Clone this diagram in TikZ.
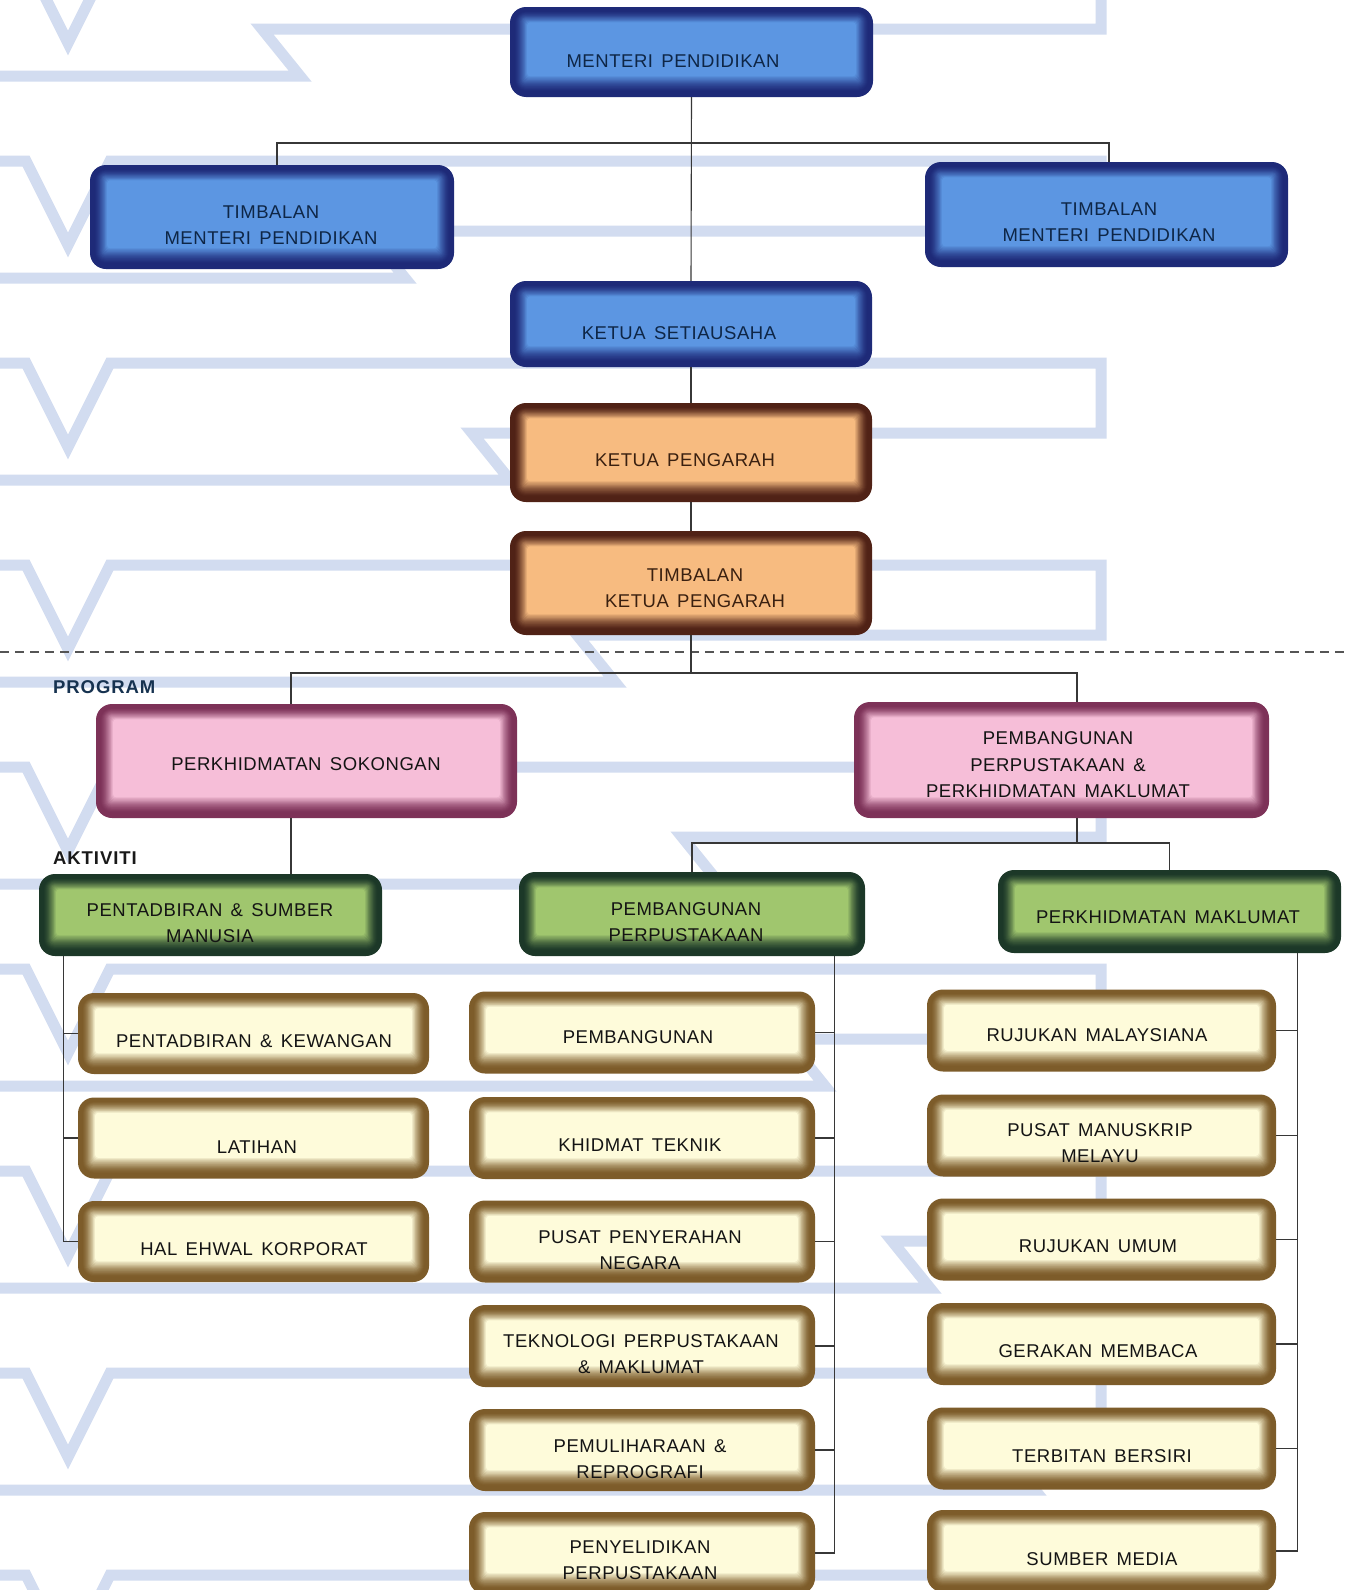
\documentclass[tikz,border=0pt]{standalone}
\usepackage{fontspec}
\setmainfont{Liberation Sans}
\newfontfamily\boxfont[LetterSpace=3]{Liberation Sans}
\newfontfamily\labfont[LetterSpace=5]{Liberation Sans}
\usetikzlibrary{calc}
\definecolor{bgrib}{RGB}{210,220,240}
\definecolor{bluedk}{RGB}{30,42,120}
\definecolor{bluelt}{RGB}{92,150,226}
\definecolor{orgdk}{RGB}{80,34,22}
\definecolor{orglt}{RGB}{247,187,128}
\definecolor{pinkdk}{RGB}{125,50,88}
\definecolor{pinklt}{RGB}{246,190,216}
\definecolor{grndk}{RGB}{28,56,40}
\definecolor{grnlt}{RGB}{160,198,110}
\definecolor{crmdk}{RGB}{125,92,42}
\definecolor{crmlt}{RGB}{254,251,218}
\definecolor{navytxt}{RGB}{14,38,70}
\definecolor{browntxt}{RGB}{58,32,16}
\definecolor{linegray}{RGB}{55,55,55}
\definecolor{labnavy}{RGB}{22,50,80}
\newcommand\glowlayers[2]{%
  \foreach \k in {1,...,18}{%
    \pgfmathsetmacro\mixv{100*(max(0,\k-4)/14)^1.5}%
    \pgfmathsetmacro\rcv{max(3,16-\k)}%
    \fill[#2!\mixv!#1, rounded corners=\rcv pt]
      ([shift={(\k*0.95pt,-\k*0.85pt)}]path picture bounding box.north west) rectangle
      ([shift={(-\k*0.95pt,\k*1.15pt)}]path picture bounding box.south east);
  }}
\newcommand\wsp{\hspace{0.45em}}
\tikzset{
  glowbox/.style n args={2}{shape=rectangle, rounded corners=16pt, fill=#1, draw=none,
    inner sep=0pt, path picture={\glowlayers{#1}{#2}}},
  bluebox/.style={glowbox={bluedk}{bluelt}},
  orgbox/.style={glowbox={orgdk}{orglt}},
  pinkbox/.style={glowbox={pinkdk}{pinklt}},
  grnbox/.style={glowbox={grndk}{grnlt}},
  crmbox/.style={glowbox={crmdk}{crmlt}},
  txt/.style={font=\boxfont\fontsize{18.5}{26.5}\selectfont, align=center, inner sep=0pt, text=black!92},
  txtb/.style={txt, text=navytxt},
  txto/.style={txt, text=browntxt},
  lab/.style={font=\labfont\bfseries\fontsize{18.5}{22}\selectfont, inner sep=0pt, anchor=base west},
  conn/.style={draw=linegray, line width=1.1pt},
  ribbon/.style={draw=bgrib, line width=11pt, line join=miter, miter limit=3},
  dashline/.style={draw=linegray!85, line width=1.3pt, dash pattern=on 9pt off 6pt}
}
\begin{document}
\begin{tikzpicture}[x=1pt,y=-1pt]
\useasboundingbox (0,0) rectangle (1348,1590);
\fill[white] (0,0) rectangle (1348,1590);
% background ribbons
\begin{scope}
\clip (0,0) rectangle (1348,1590);
\foreach \k in {0,...,8}{
  \pgfmathsetmacro\yy{-41+202*\k}
  \pgfmathsetmacro\xz{262+105*\k}
  \draw[ribbon] (0,\yy) -- (26,\yy) -- (68,\yy+84) -- (110,\yy) -- (1101,\yy) -- (1101,\yy+70)
     -- (\xz,\yy+70) -- (\xz+38,\yy+117) -- (0,\yy+117);
}
\end{scope}
% dashed divider
\draw[dashline] (0,652) -- (1348,652);
% labels
\node[lab, text=labnavy] (lprog) at (53,693) {PROGRAM};
\node[lab, text=black!90] (lakt) at (53,864) {AKTIVITI};
% boxes
\node[bluebox, minimum width=363pt, minimum height=90pt] (mp) at (691.5,52) {};
\node[bluebox, minimum width=364pt, minimum height=104pt] (tl) at (272,217) {};
\node[bluebox, minimum width=363pt, minimum height=105pt] (tr) at (1106.5,214.5) {};
\node[bluebox, minimum width=362pt, minimum height=86pt] (ksu) at (691,324) {};
\node[orgbox, minimum width=362pt, minimum height=99pt] (kp) at (691,452.5) {};
\node[orgbox, minimum width=362pt, minimum height=104pt] (tkp) at (691,583) {};
\node[pinkbox, minimum width=421pt, minimum height=114pt] (ps) at (306.5,761) {};
\node[pinkbox, minimum width=415pt, minimum height=116pt] (pm) at (1061.5,760) {};
\node[grnbox, minimum width=343pt, minimum height=82pt] (psm) at (210.5,915) {};
\node[grnbox, minimum width=346pt, minimum height=84pt] (pp) at (692,914) {};
\node[grnbox, minimum width=343pt, minimum height=83pt] (pmk) at (1169.5,911.5) {};
\foreach \n/\cy in {a1/1033.5,a2/1138,a3/1241.5}
  \node[crmbox, minimum width=351pt, minimum height=81pt] (\n) at (253.5,\cy) {};
\foreach \n/\cy in {b1/1032.5,b2/1138,b3/1241.5,b4/1346,b5/1450,b6/1553}
  \node[crmbox, minimum width=346pt, minimum height=82pt] (\n) at (642,\cy) {};
\foreach \n/\cy in {c1/1030.5,c2/1135.5,c3/1239.5,c4/1344,c5/1448.5,c6/1551}
  \node[crmbox, minimum width=349pt, minimum height=82pt] (\n) at (1101.5,\cy) {};
% texts
\node[txtb] (mpT) at (673,61) {MENTERI\wsp PENDIDIKAN};
\node[txtb] (tlT) at (271,225) {TIMBALAN\\MENTERI\wsp PENDIDIKAN};
\node[txtb] (trT) at (1109,222) {TIMBALAN\\MENTERI\wsp PENDIDIKAN};
\node[txtb] (ksuT) at (679,333) {KETUA\wsp SETIAUSAHA};
\node[txto] (kpT) at (685,460) {KETUA\wsp PENGARAH};
\node[txto] (tkpT) at (695,588) {TIMBALAN\\KETUA\wsp PENGARAH};
\node[txt] (psT) at (306,764) {PERKHIDMATAN\wsp SOKONGAN};
\node[txt] (pmT) at (1058,765) {PEMBANGUNAN\\PERPUSTAKAAN\wsp \&\\PERKHIDMATAN\wsp MAKLUMAT};
\node[txt] (psmT) at (210,923) {PENTADBIRAN\wsp \&\wsp SUMBER\\MANUSIA};
\node[txt] (ppT) at (686,922) {PEMBANGUNAN\\PERPUSTAKAAN};
\node[txt] (pmkT) at (1168,917) {PERKHIDMATAN\wsp MAKLUMAT};
\node[txt] (a1T) at (254,1041) {PENTADBIRAN\wsp \&\wsp KEWANGAN};
\node[txt] (a2T) at (257,1147) {LATIHAN};
\node[txt] (a3T) at (254,1249) {HAL\wsp EHWAL\wsp KORPORAT};
\node[txt] (b1T) at (638,1037) {PEMBANGUNAN};
\node[txt] (b2T) at (640,1145) {KHIDMAT\wsp TEKNIK};
\node[txt] (b3T) at (640,1250) {PUSAT\wsp PENYERAHAN\\NEGARA};
\node[txt] (b4T) at (641,1354) {TEKNOLOGI\wsp PERPUSTAKAAN\\\&\wsp MAKLUMAT};
\node[txt] (b5T) at (640,1459) {PEMULIHARAAN\wsp \&\\REPROGRAFI};
\node[txt] (b6T) at (640,1560) {PENYELIDIKAN\\PERPUSTAKAAN};
\node[txt] (c1T) at (1097,1035) {RUJUKAN\wsp MALAYSIANA};
\node[txt] (c2T) at (1100,1143) {PUSAT\wsp MANUSKRIP\\MELAYU};
\node[txt] (c3T) at (1098,1246) {RUJUKAN\wsp UMUM};
\node[txt] (c4T) at (1098,1351) {GERAKAN\wsp MEMBACA};
\node[txt] (c5T) at (1102,1456) {TERBITAN\wsp BERSIRI};
\node[txt] (c6T) at (1102,1559) {SUMBER\wsp MEDIA};
% connectors
\coordinate (h1) at (691.5,143);
\draw[conn] (mp.south) -- (ksu.north);
\draw[conn] ([xshift=5pt]tl.north) |- (h1) -| ([xshift=2.5pt]tr.north);
\draw[conn] (ksu.south) -- (kp.north);
\draw[conn] (kp.south) -- (tkp.north);
\coordinate (h2) at (691,673);
\draw[conn] (tkp.south) -- (h2);
\draw[conn] ([xshift=-15.5pt]ps.north) |- (h2) -| ([xshift=15.5pt]pm.north);
\path ([xshift=-15.5pt]ps.south) coordinate (psS);
\draw[conn] (psS) -- (psS |- psm.north);
\path ([xshift=15.5pt]pm.south) coordinate (pmS);
\coordinate (h3) at (1077,843);
\draw[conn] (pmS) -- (h3);
\draw[conn] (pp.north) |- (h3) -| (pmk.north);
\path ([xshift=25pt]psm.south west) coordinate (r1);
\foreach \n in {a1,a2,a3} \draw[conn] (r1) |- (\n.west);
\path ([xshift=-31pt]pp.south east) coordinate (r2);
\foreach \n in {b1,b2,b3,b4,b5,b6} \draw[conn] (r2) |- (\n.east);
\path ([xshift=-44pt]pmk.south east) coordinate (r3);
\foreach \n in {c1,c2,c3,c4,c5,c6} \draw[conn] (r3) |- (\n.east);
\end{tikzpicture}
\end{document}
